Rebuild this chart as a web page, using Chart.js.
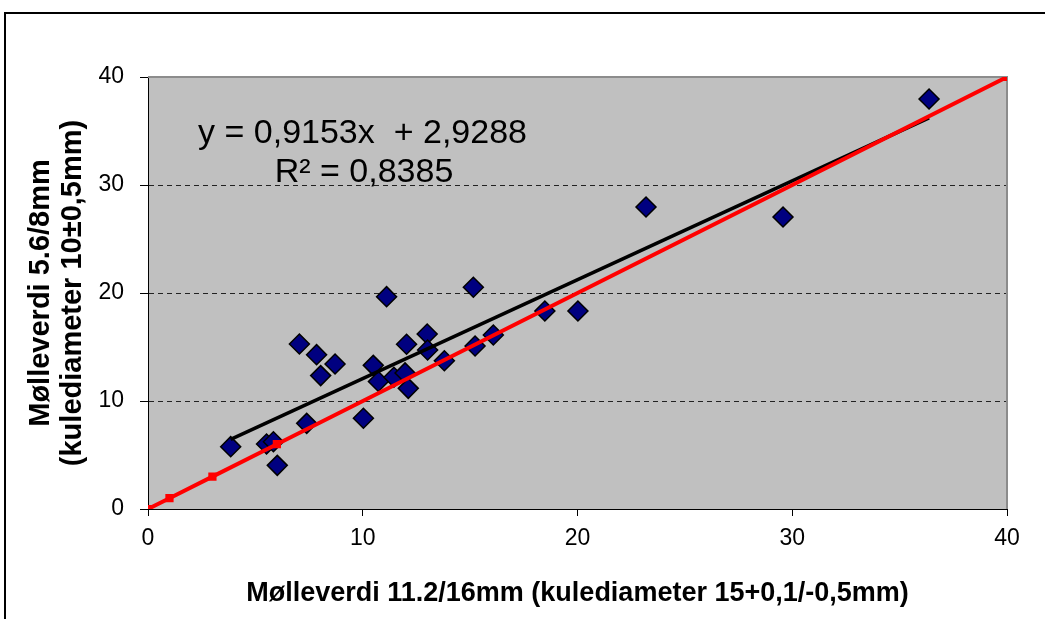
<!DOCTYPE html>
<html>
<head>
<meta charset="utf-8">
<script src="https://cdn.jsdelivr.net/npm/chart.js"></script>
<style>
  html, body { margin: 0; padding: 0; background: #fff; }
  #wrap { position: relative; width: 1045px; height: 619px; }
  canvas { position: absolute; left: 0; top: 0; }
</style>
</head>
<body>
<div id="wrap"><canvas id="chart" width="1045" height="619"></canvas></div>
<script>
// measured values (x = 11.2/16mm, y = 5.6/8mm)
const xVals = [3.85, 5.52, 5.84, 6.02, 7.39, 7.05, 7.85, 8.71, 8.04, 10.03, 11.11, 10.49, 10.73, 11.45, 11.97, 12.12, 12.04, 13.0, 13.02, 13.8, 15.15, 15.23, 16.08, 18.48, 20.02, 23.19, 29.57, 36.37];
const yVals = [5.77, 6.02, 6.23, 4.04, 7.93, 15.28, 14.29, 13.43, 12.35, 8.40, 19.66, 13.30, 11.80, 12.2, 12.6, 11.17, 15.25, 16.2, 14.72, 13.73, 20.53, 15.09, 16.11, 18.33, 18.33, 27.96, 27.04, 37.96];

// 1:1 reference line
const refX = [0, 1, 3, 6, 40];

// linear trend
const slope = 0.9153;
const intercept = 2.9288;
const eqLines = ["y = 0,9153x  + 2,9288", "R\u00B2 = 0,8385"];

const tickVals = [0, 10, 20, 30, 40];

const points = xVals.map((x, i) => ({ x: x, y: yVals[i] }));
const refLine = refX.map(x => ({ x: x, y: x }));
const xMin = Math.min(...xVals), xMax = Math.max(...xVals);
const trend = [xMin, xMax].map(x => ({ x: x, y: slope * x + intercept }));

const FONT = "'Liberation Sans', Arial, sans-serif";

const plotBg = {
  id: "plotBg",
  beforeDraw(chart) {
    const { ctx, chartArea: a } = chart;
    ctx.save();
    ctx.fillStyle = "#fff";
    ctx.fillRect(0, 0, chart.width, chart.height);
    // outer frame
    ctx.fillStyle = "#000";
    ctx.fillRect(4, 12, chart.width - 4, 2);
    ctx.fillRect(4, 12, 2, chart.height - 12);
    ctx.fillStyle = "#c0c0c0";
    ctx.fillRect(a.left, a.top, a.right - a.left, a.bottom - a.top);
    ctx.restore();
  },
  beforeDatasetsDraw(chart) {
    const { ctx, chartArea: a } = chart;
    ctx.save();
    ctx.strokeStyle = "#8c8c8c";
    ctx.lineWidth = 2;
    ctx.beginPath();
    ctx.moveTo(a.left, a.top);
    ctx.lineTo(a.right, a.top);
    ctx.lineTo(a.right, a.bottom);
    ctx.stroke();
    ctx.restore();
  }
};

const equation = {
  id: "equation",
  afterDatasetsDraw(chart) {
    const { ctx, scales } = chart;
    ctx.save();
    ctx.fillStyle = "#000";
    ctx.font = "34px " + FONT;
    ctx.textBaseline = "alphabetic";
    ctx.fillText(eqLines[0], scales.x.getPixelForValue(2.33), scales.y.getPixelForValue(33.9));
    ctx.fillText(eqLines[1], scales.x.getPixelForValue(5.9), scales.y.getPixelForValue(30.3));
    ctx.restore();
  }
};

new Chart(document.getElementById("chart").getContext("2d"), {
  type: "scatter",
  data: {
    datasets: [
      {
        label: "1:1",
        data: refLine,
        showLine: true,
        borderColor: "#ff0000",
        borderWidth: 4,
        pointStyle: "rect",
        pointRadius: 3,
        pointBackgroundColor: "#ff0000",
        pointBorderColor: "#ff0000"
      },
      {
        label: "Trend",
        data: trend,
        showLine: true,
        borderColor: "#000",
        borderWidth: 3.5,
        pointRadius: 0
      },
      {
        label: "Mølleverdi",
        data: points,
        pointStyle: "rectRot",
        pointRadius: 10,
        pointBackgroundColor: "#000080",
        pointBorderColor: "#000",
        pointBorderWidth: 1.5
      }
    ]
  },
  options: {
    responsive: false,
    animation: false,
    layout: { padding: { top: 77, right: 38, bottom: 8, left: 20 } },
    plugins: {
      legend: { display: false },
      tooltip: { enabled: false }
    },
    scales: {
      x: {
        type: "linear",
        min: 0,
        max: 40,
        afterFit: s => { s.height = 102; },
        afterBuildTicks: s => { s.ticks = tickVals.map(v => ({ value: v })); },
        ticks: { color: "#000", font: { family: FONT, size: 23 }, padding: 9, maxRotation: 0 },
        grid: { drawOnChartArea: false, tickLength: 7, tickColor: "#000", tickWidth: 1 },
        border: { color: "#000", width: 1 },
        title: {
          display: true,
          text: "Mølleverdi 11.2/16mm (kulediameter 15+0,1/-0,5mm)",
          color: "#000",
          font: { family: FONT, size: 27, weight: "bold" },
          padding: { top: 0, bottom: 1 }
        }
      },
      y: {
        type: "linear",
        min: 0,
        max: 40,
        afterFit: s => { s.width = 128; },
        afterBuildTicks: s => { s.ticks = tickVals.map(v => ({ value: v })); },
        ticks: { color: "#000", font: { family: FONT, size: 23 }, padding: 16 },
        grid: {
          color: c => (c.tick && (c.tick.value === 0 || c.tick.value === 40)) ? "rgba(0,0,0,0)" : "#222",
          tickBorderDash: [],
          tickColor: "#000",
          tickLength: 8,
          lineWidth: 1
        },
        border: { color: "#000", width: 1, dash: [5, 4] },
        title: {
          display: true,
          text: ["Mølleverdi 5.6/8mm", "(kulediameter 10±0,5mm)"],
          color: "#000",
          font: { family: FONT, size: 29, weight: "bold", lineHeight: 1.1 },
          padding: { top: 5, bottom: 0 }
        }
      }
    }
  },
  plugins: [plotBg, equation]
});
</script>
</body>
</html>
